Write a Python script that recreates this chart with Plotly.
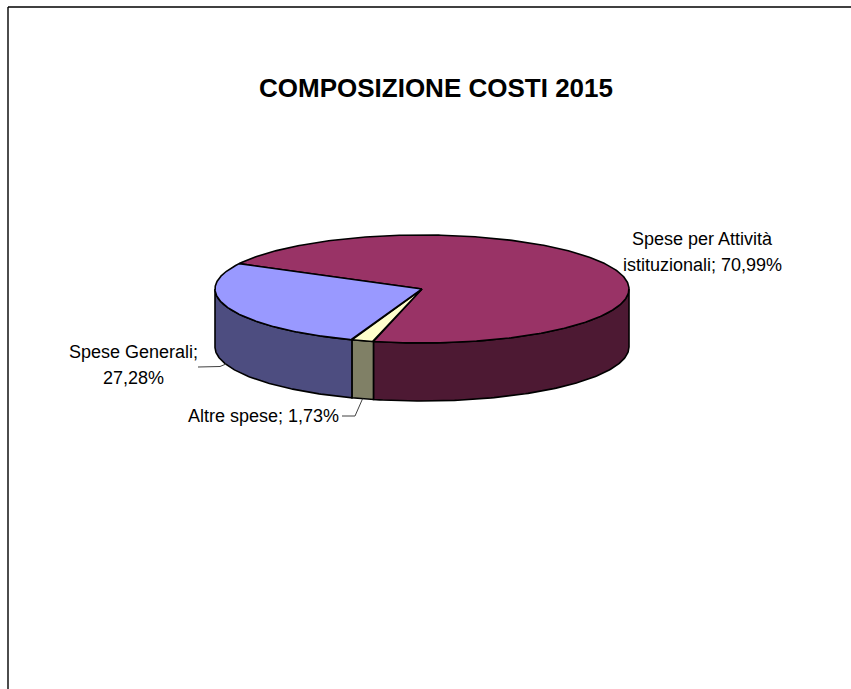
import numpy as np
import plotly.graph_objects as go

title = "COMPOSIZIONE COSTI 2015"
categories = ["Spese per Attività istituzionali", "Altre spese", "Spese Generali"]
values = [70.99, 1.73, 27.28]
value_labels = ["70,99%", "1,73%", "27,28%"]
top_colors = ["#993366", "#FFFFCC", "#9999FF"]
side_colors = ["#4D1933", "#808066", "#4D4D80"]

W, H = 851, 689
CX, CY, RX, RY, DEPTH = 422, 289, 207, 54, 58
START = 152.0  # degrees, going clockwise


def ex(t):
    return CX + RX * np.cos(np.radians(t))


def ey(t):
    return CY - RY * np.sin(np.radians(t))


fig = go.Figure()
total = sum(values)
angles = [START]
for v in values:
    angles.append(angles[-1] - v / total * 360)
line = dict(color="#000000", width=1.6)

# side walls: visible part lies where the angle falls in the lower half (180..360)
for i in range(len(values)):
    a0, a1 = angles[i], angles[i + 1]
    hi, lo = max(a0, a1), min(a0, a1)
    for shift in (0, 360, -360):
        s_lo = max(lo + shift, 180)
        s_hi = min(hi + shift, 360)
        if s_hi > s_lo:
            t = np.linspace(s_lo, s_hi, 120)
            xs = np.concatenate([ex(t), ex(t[::-1])])
            ys = np.concatenate([ey(t), ey(t[::-1]) + DEPTH])
            fig.add_trace(go.Scatter(x=np.append(xs, xs[0]), y=np.append(ys, ys[0]), mode="lines",
                                     fill="toself", fillcolor=side_colors[i], line=line,
                                     hoverinfo="skip", showlegend=False))

# top faces
for i in range(len(values)):
    t = np.linspace(angles[i], angles[i + 1], 400)
    xs = np.concatenate([[CX], ex(t), [CX]])
    ys = np.concatenate([[CY], ey(t), [CY]])
    fig.add_trace(go.Scatter(x=xs, y=ys, mode="lines", fill="toself", fillcolor=top_colors[i],
                             line=line, name=categories[i], hoverinfo="name", showlegend=False))

# leader lines
mid_alt = (angles[1] + angles[2]) / 2 + 360
leader = dict(color="#404040", width=1)
fig.add_trace(go.Scatter(x=[342, 355, ex(mid_alt)], y=[416, 416, ey(mid_alt) + DEPTH], mode="lines",
                         line=leader, hoverinfo="skip", showlegend=False))
fig.add_trace(go.Scatter(x=[198, 220, 226], y=[367, 366.5, 364], mode="lines",
                         line=leader, hoverinfo="skip", showlegend=False))

font = dict(family="Liberation Sans, Arial, sans-serif", color="#000000", size=18)
ann = [
    dict(x=702, y=239, text="Spese per Attività"),
    dict(x=702, y=265, text="istituzionali; " + value_labels[0]),
    dict(x=133, y=352, text="Spese Generali;"),
    dict(x=133, y=378, text=value_labels[2]),
    dict(x=263, y=416, text="Altre spese; " + value_labels[1]),
]
for a in ann:
    fig.add_annotation(x=a["x"], y=a["y"], text=a["text"], showarrow=False, font=font,
                       xanchor="center", yanchor="middle", xref="x", yref="y")
fig.add_annotation(x=436, y=88, text="<b>" + title + "</b>", showarrow=False,
                   font=dict(family="Liberation Sans, Arial, sans-serif", color="#000000", size=26),
                   xanchor="center", yanchor="middle", xref="x", yref="y")

# chart-area frame: top and left edges
frame = dict(color="#000000", width=1.4)
fig.add_shape(type="line", x0=8, x1=W + 10, y0=7, y1=7, line=frame, xref="x", yref="y")
fig.add_shape(type="line", x0=8, x1=8, y0=7, y1=H + 10, line=frame, xref="x", yref="y")

fig.update_xaxes(range=[0, W], visible=False, fixedrange=True)
fig.update_yaxes(range=[H, 0], visible=False, fixedrange=True)
fig.update_layout(width=W, height=H, margin=dict(l=0, r=0, t=0, b=0),
                  paper_bgcolor="#FFFFFF", plot_bgcolor="#FFFFFF", showlegend=False)
fig.write_html("out.html", config=dict(displayModeBar=False),
               post_script="document.body.style.margin='0';document.documentElement.style.overflow='hidden';")
